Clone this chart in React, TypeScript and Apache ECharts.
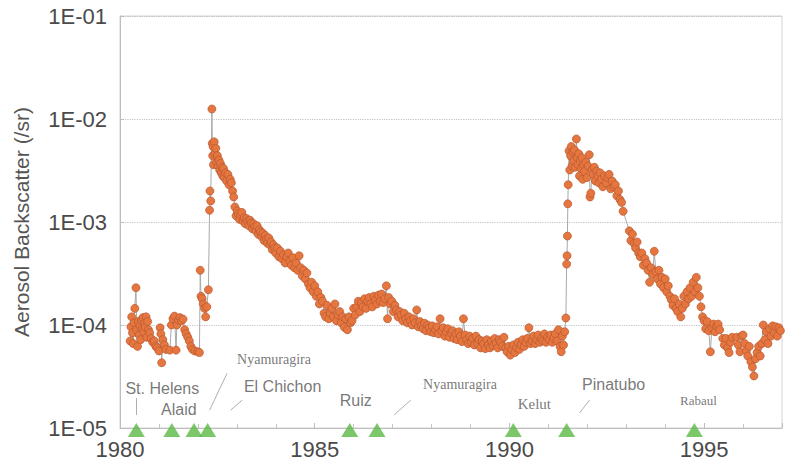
import React, { useEffect, useRef } from "react";
import * as echarts from "echarts";

type P = [number, number];

const preChichon: P[] = [
  [1980.26, 7.0e-5], [1980.28, 9.6e-5], [1980.30, 1.2e-4], [1980.32, 8.4e-5], [1980.34, 6.6e-5],
  [1980.36, 1.05e-4], [1980.38, 1.45e-4], [1980.41, 2.3e-4], [1980.43, 9.0e-5], [1980.45, 6.2e-5],
  [1980.47, 1.08e-4], [1980.49, 8.0e-5], [1980.51, 9.8e-5], [1980.53, 7.2e-5], [1980.55, 1.12e-4],
  [1980.57, 9.2e-5], [1980.59, 1.18e-4], [1980.61, 8.6e-5], [1980.63, 1.04e-4], [1980.65, 9.5e-5],
  [1980.67, 1.2e-4], [1980.69, 7.6e-5], [1980.71, 1.08e-4], [1980.73, 9.0e-5], [1980.76, 8.4e-5],
  [1980.80, 7.4e-5], [1980.84, 6.8e-5], [1980.88, 7.0e-5], [1980.92, 6.2e-5], [1980.96, 6.0e-5],
  [1981.00, 5.6e-5], [1981.03, 9.4e-5], [1981.05, 8.2e-5], [1981.07, 4.3e-5], [1981.10, 7.2e-5],
  [1981.14, 6.4e-5], [1981.18, 5.8e-5], [1981.28, 5.7e-5], [1981.32, 1.0e-4], [1981.36, 1.15e-4],
  [1981.40, 1.22e-4], [1981.44, 5.7e-5], [1981.46, 1.0e-4], [1981.50, 1.12e-4], [1981.54, 1.18e-4],
  [1981.58, 1.1e-4], [1981.62, 1.14e-4], [1981.66, 9.0e-5], [1981.70, 8.2e-5], [1981.74, 7.6e-5],
  [1981.78, 7.0e-5], [1981.82, 6.2e-5], [1981.86, 5.8e-5], [1981.92, 5.6e-5], [1982.00, 5.5e-5],
  [1982.04, 5.4e-5], [1982.06, 3.4e-4], [1982.08, 1.9e-4], [1982.11, 1.8e-4], [1982.14, 1.6e-4],
  [1982.17, 1.45e-4], [1982.20, 1.2e-4], [1982.23, 1.5e-4], [1982.27, 2.2e-4],
];

const chichon: P[] = [
  [1982.30, 1.3e-3], [1982.31, 2.0e-3], [1982.33, 1.6e-3], [1982.36, 1.25e-2], [1982.37, 5.8e-3],
  [1982.38, 4.4e-3], [1982.39, 5.4e-3], [1982.40, 3.6e-3], [1982.42, 6.0e-3], [1982.44, 4.6e-3],
  [1982.46, 5.2e-3], [1982.48, 3.8e-3], [1982.50, 4.4e-3], [1982.52, 3.5e-3], [1982.54, 4.0e-3],
  [1982.56, 3.2e-3], [1982.58, 3.7e-3], [1982.60, 3.0e-3], [1982.62, 3.4e-3], [1982.64, 2.8e-3],
  [1982.66, 3.3e-3], [1982.68, 2.7e-3], [1982.71, 3.0e-3], [1982.74, 2.5e-3], [1982.77, 2.9e-3],
  [1982.80, 2.3e-3], [1982.83, 2.6e-3], [1982.86, 2.4e-3], [1982.89, 2.0e-3], [1982.92, 1.75e-3],
];

const chichonDecay: P[] = [
  [1982.95, 1.4e-3], [1982.98, 1.15e-3], [1983.01, 1.28e-3], [1983.04, 1.2e-3], [1983.07, 1.06e-3],
  [1983.10, 1.18e-3], [1983.13, 1.24e-3], [1983.16, 1.02e-3], [1983.19, 1.1e-3], [1983.22, 9.6e-4],
  [1983.25, 1.08e-3], [1983.28, 1.02e-3], [1983.31, 9.2e-4], [1983.34, 1.04e-3], [1983.37, 9.8e-4],
  [1983.40, 8.6e-4], [1983.43, 9.6e-4], [1983.46, 9.0e-4], [1983.49, 8.2e-4], [1983.52, 9.2e-4],
  [1983.55, 7.6e-4], [1983.58, 8.4e-4], [1983.61, 8.0e-4], [1983.64, 7.2e-4], [1983.67, 7.8e-4],
  [1983.70, 6.6e-4], [1983.73, 7.4e-4], [1983.76, 6.8e-4], [1983.79, 6.2e-4], [1983.82, 7.0e-4],
  [1983.85, 6.0e-4], [1983.88, 6.4e-4], [1983.91, 5.4e-4], [1983.94, 6.0e-4], [1983.97, 5.6e-4],
  [1984.00, 5.0e-4], [1984.04, 5.6e-4], [1984.08, 4.6e-4], [1984.12, 5.2e-4], [1984.16, 4.4e-4],
  [1984.20, 4.8e-4], [1984.24, 4.0e-4], [1984.28, 4.6e-4], [1984.32, 5.0e-4], [1984.36, 4.2e-4],
  [1984.40, 3.8e-4], [1984.44, 4.5e-4], [1984.48, 3.6e-4], [1984.52, 4.0e-4], [1984.56, 3.4e-4],
  [1984.60, 4.7e-4], [1984.64, 3.6e-4], [1984.68, 3.0e-4], [1984.72, 3.4e-4], [1984.76, 2.8e-4],
  [1984.80, 3.2e-4], [1984.84, 2.5e-4], [1984.88, 2.3e-4], [1984.92, 2.6e-4], [1984.96, 2.1e-4],
];

const background: P[] = [
  [1985.00, 2.4e-4], [1985.04, 1.9e-4], [1985.08, 2.1e-4], [1985.12, 1.6e-4], [1985.16, 1.85e-4],
  [1985.20, 1.7e-4], [1985.24, 1.3e-4], [1985.28, 1.2e-4], [1985.32, 1.55e-4], [1985.36, 1.15e-4],
  [1985.40, 1.3e-4], [1985.44, 1.45e-4], [1985.48, 1.2e-4], [1985.52, 1.6e-4], [1985.56, 1.1e-4],
  [1985.60, 1.25e-4], [1985.64, 1.35e-4], [1985.68, 1.05e-4], [1985.72, 1.2e-4], [1985.76, 9.5e-5],
  [1985.80, 1.15e-4], [1985.84, 9.0e-5], [1985.88, 1.2e-4], [1985.92, 1.05e-4], [1985.96, 1.1e-4],
  [1986.00, 1.45e-4], [1986.04, 1.25e-4], [1986.08, 1.5e-4], [1986.12, 1.7e-4], [1986.16, 1.35e-4],
  [1986.20, 1.65e-4], [1986.24, 1.5e-4], [1986.28, 1.8e-4], [1986.32, 1.45e-4], [1986.36, 1.7e-4],
  [1986.40, 1.85e-4], [1986.44, 1.6e-4], [1986.48, 1.5e-4], [1986.52, 1.9e-4], [1986.56, 1.75e-4],
  [1986.60, 1.6e-4], [1986.64, 1.95e-4], [1986.68, 1.7e-4], [1986.72, 2.0e-4], [1986.76, 1.65e-4],
  [1986.80, 1.8e-4], [1986.84, 2.4e-4], [1986.87, 1.15e-4], [1986.90, 1.85e-4], [1986.94, 1.6e-4],
  [1986.98, 1.7e-4], [1987.02, 1.35e-4], [1987.06, 1.55e-4], [1987.10, 1.4e-4], [1987.14, 1.2e-4],
  [1987.18, 1.35e-4], [1987.22, 1.25e-4], [1987.26, 1.1e-4], [1987.30, 1.3e-4], [1987.34, 1.15e-4],
  [1987.38, 1.05e-4], [1987.42, 1.2e-4], [1987.46, 1.1e-4], [1987.50, 1.0e-4], [1987.54, 1.15e-4],
  [1987.58, 1.05e-4], [1987.62, 1.4e-4], [1987.66, 9.6e-5], [1987.70, 1.08e-4], [1987.74, 9.8e-5],
  [1987.78, 9.2e-5], [1987.82, 1.04e-4], [1987.86, 8.8e-5], [1987.90, 1.0e-4], [1987.94, 9.4e-5],
  [1987.98, 8.6e-5], [1988.02, 9.8e-5], [1988.06, 8.4e-5], [1988.10, 9.0e-5], [1988.14, 9.6e-5],
  [1988.18, 8.2e-5], [1988.22, 1.15e-4], [1988.26, 8.8e-5], [1988.30, 9.4e-5], [1988.34, 7.8e-5],
  [1988.38, 8.6e-5], [1988.42, 9.2e-5], [1988.46, 7.6e-5], [1988.50, 8.4e-5], [1988.54, 8.8e-5],
  [1988.58, 7.4e-5], [1988.62, 8.2e-5], [1988.66, 7.2e-5], [1988.70, 8.6e-5], [1988.74, 7.8e-5],
  [1988.78, 6.9e-5], [1988.82, 1.15e-4], [1988.86, 8.0e-5], [1988.90, 7.2e-5], [1988.94, 6.6e-5],
  [1988.98, 7.8e-5], [1989.02, 6.8e-5], [1989.06, 7.4e-5], [1989.10, 6.4e-5], [1989.14, 7.8e-5],
  [1989.18, 6.6e-5], [1989.22, 7.2e-5], [1989.26, 6.0e-5], [1989.30, 7.0e-5], [1989.34, 6.6e-5],
  [1989.38, 5.9e-5], [1989.42, 7.2e-5], [1989.46, 6.4e-5], [1989.50, 6.0e-5], [1989.54, 7.0e-5],
  [1989.58, 6.3e-5], [1989.62, 7.4e-5], [1989.66, 6.6e-5], [1989.70, 6.0e-5], [1989.74, 7.2e-5],
  [1989.78, 6.8e-5], [1989.82, 6.2e-5], [1989.86, 7.6e-5], [1989.90, 6.0e-5], [1989.94, 5.5e-5],
  [1989.98, 6.2e-5], [1990.02, 5.1e-5], [1990.06, 5.8e-5], [1990.10, 6.4e-5], [1990.14, 5.4e-5],
  [1990.18, 6.0e-5], [1990.22, 6.8e-5], [1990.26, 5.8e-5], [1990.30, 6.4e-5], [1990.34, 7.2e-5],
  [1990.38, 6.2e-5], [1990.42, 6.8e-5], [1990.46, 7.4e-5], [1990.50, 9.4e-5], [1990.54, 6.6e-5],
  [1990.58, 7.0e-5], [1990.62, 7.8e-5], [1990.66, 6.6e-5], [1990.70, 7.2e-5], [1990.74, 8.0e-5],
  [1990.78, 6.8e-5], [1990.82, 7.4e-5], [1990.86, 7.0e-5], [1990.90, 8.2e-5], [1990.94, 6.8e-5],
  [1990.98, 7.6e-5], [1991.02, 7.2e-5], [1991.06, 8.0e-5], [1991.10, 6.8e-5], [1991.14, 7.4e-5],
  [1991.18, 8.2e-5], [1991.22, 7.0e-5], [1991.26, 9.0e-5], [1991.30, 6.2e-5], [1991.33, 5.5e-5],
  [1991.36, 7.8e-5], [1991.39, 6.4e-5], [1991.42, 8.6e-5], [1991.45, 1.17e-4],
];

const pinatubo: P[] = [
  [1991.47, 3.9e-4], [1991.48, 4.7e-4], [1991.49, 7.3e-4], [1991.50, 1.5e-3], [1991.51, 2.3e-3],
  [1991.53, 4.9e-3], [1991.55, 3.2e-3], [1991.57, 4.4e-3], [1991.59, 5.4e-3], [1991.61, 3.5e-3],
  [1991.63, 4.8e-3], [1991.65, 3.9e-3], [1991.67, 5.0e-3], [1991.69, 3.4e-3], [1991.72, 6.4e-3],
  [1991.74, 4.2e-3], [1991.76, 3.6e-3], [1991.78, 4.6e-3], [1991.80, 2.8e-3], [1991.82, 3.9e-3],
  [1991.84, 3.3e-3], [1991.86, 4.2e-3], [1991.88, 2.6e-3], [1991.90, 3.6e-3], [1991.93, 3.1e-3],
  [1991.96, 3.8e-3], [1991.99, 2.7e-3], [1992.02, 3.5e-3], [1992.05, 4.5e-3], [1992.07, 1.75e-3],
  [1992.09, 1.9e-3], [1992.12, 3.2e-3], [1992.15, 2.9e-3], [1992.18, 3.4e-3], [1992.21, 2.5e-3],
  [1992.24, 3.1e-3], [1992.27, 2.8e-3], [1992.30, 2.4e-3], [1992.33, 3.0e-3], [1992.36, 2.6e-3],
  [1992.40, 2.2e-3], [1992.44, 2.8e-3], [1992.48, 2.4e-3], [1992.52, 2.7e-3], [1992.56, 2.9e-3],
  [1992.60, 2.1e-3], [1992.64, 2.5e-3], [1992.68, 2.2e-3], [1992.72, 2.3e-3], [1992.76, 1.8e-3],
  [1992.80, 2.0e-3], [1992.84, 1.65e-3], [1992.88, 1.55e-3], [1992.92, 1.27e-3],
];

const pinatuboDecay: P[] = [
  [1993.08, 8.2e-4], [1993.12, 6.6e-4], [1993.16, 7.6e-4], [1993.20, 6.2e-4], [1993.24, 5.6e-4],
  [1993.28, 6.4e-4], [1993.32, 5.0e-4], [1993.36, 4.6e-4], [1993.40, 5.0e-4], [1993.44, 3.8e-4],
  [1993.48, 4.4e-4], [1993.52, 4.0e-4], [1993.56, 3.4e-4], [1993.60, 2.6e-4], [1993.64, 3.6e-4],
  [1993.68, 3.1e-4], [1993.72, 5.2e-4], [1993.76, 3.3e-4], [1993.80, 2.8e-4], [1993.84, 3.4e-4],
  [1993.88, 2.5e-4], [1993.92, 2.9e-4], [1993.96, 2.3e-4], [1994.00, 2.8e-4], [1994.04, 2.1e-4],
  [1994.08, 2.4e-4], [1994.12, 1.9e-4], [1994.16, 1.75e-4], [1994.20, 1.55e-4], [1994.24, 1.8e-4],
  [1994.28, 1.45e-4], [1994.32, 1.35e-4], [1994.36, 1.6e-4], [1994.40, 1.2e-4], [1994.44, 1.45e-4],
  [1994.48, 1.9e-4], [1994.52, 1.6e-4], [1994.56, 2.1e-4], [1994.60, 1.8e-4], [1994.64, 2.3e-4],
  [1994.68, 1.9e-4], [1994.72, 2.6e-4], [1994.76, 2.1e-4], [1994.80, 2.9e-4], [1994.84, 2.3e-4],
  [1994.88, 1.9e-4], [1994.92, 1.5e-4], [1994.96, 1.2e-4], [1995.00, 1.1e-4], [1995.04, 9.2e-5],
  [1995.08, 1.08e-4], [1995.12, 8.8e-5], [1995.16, 5.5e-5], [1995.20, 9.4e-5], [1995.24, 1.02e-4],
  [1995.28, 8.6e-5], [1995.32, 9.8e-5], [1995.36, 1.02e-4], [1995.40, 9.0e-5], [1995.48, 7.4e-5],
  [1995.52, 6.4e-5], [1995.56, 7.4e-5], [1995.60, 6.0e-5], [1995.64, 5.4e-5], [1995.68, 6.8e-5],
  [1995.72, 7.6e-5], [1995.84, 7.6e-5], [1995.88, 6.4e-5], [1995.92, 5.5e-5], [1995.96, 7.8e-5],
  [1996.00, 8.0e-5], [1996.04, 6.6e-5], [1996.08, 5.6e-5], [1996.12, 5.0e-5], [1996.16, 6.2e-5],
  [1996.20, 4.4e-5], [1996.24, 3.9e-5], [1996.28, 3.2e-5], [1996.32, 4.7e-5], [1996.36, 5.4e-5],
  [1996.40, 6.2e-5], [1996.44, 5.0e-5], [1996.48, 6.6e-5], [1996.52, 1.0e-4], [1996.56, 7.2e-5],
  [1996.60, 8.6e-5], [1996.64, 6.6e-5], [1996.68, 9.2e-5], [1996.72, 7.8e-5], [1996.76, 9.8e-5],
  [1996.80, 8.4e-5], [1996.84, 9.6e-5], [1996.88, 7.8e-5], [1996.92, 9.4e-5], [1996.96, 8.8e-5],
];

const volcanoNames = [
  "St. Helens", "Alaid", "Nyamuragira", "El Chichon", "Ruiz",
  "Nyamuragira", "Kelut", "Pinatubo", "Rabaul",
];
const volcanoYears = [1980.42, 1981.33, 1981.9, 1982.25, 1985.9, 1986.6, 1990.1, 1991.47, 1994.75];
const axisFloor = 1e-5;

// leader lines in data space: [year1, value1, year2, value2]
const leaderLines: [number, number, number, number][] = [
  [1980.42, 1.34e-5, 1980.42, 1.95e-5],
  [1982.3, 1.49e-5, 1982.75, 3.4e-5],
  [1982.84, 1.49e-5, 1983.14, 1.87e-5],
  [1987.04, 1.34e-5, 1987.47, 1.87e-5],
  [1991.8, 1.4e-5, 1992.06, 1.87e-5],
];

const SANS = "'Liberation Sans', Arial, Helvetica, sans-serif";
const SERIF = "'Liberation Serif', 'Times New Roman', serif";

// label style per volcano (offset from triangle, font)
const labelStyles = [
  { offset: [26, -42], font: SANS, size: 16 },
  { offset: [7, -21], font: SANS, size: 16 },
  { offset: [80, -71], font: SERIF, size: 14 },
  { offset: [75, -44], font: SANS, size: 16 },
  { offset: [6, -30], font: SANS, size: 16 },
  { offset: [83, -46], font: SERIF, size: 14 },
  { offset: [21, -26], font: SERIF, size: 15 },
  { offset: [47, -46], font: SANS, size: 16 },
  { offset: [4, -30], font: SERIF, size: 13 },
];

const backscatter: P[] = [
  ...preChichon, ...chichon, ...chichonDecay, ...background, ...pinatubo, ...pinatuboDecay,
];

export default function App() {
  const ref = useRef<HTMLDivElement>(null);
  useEffect(() => {
    document.body.style.margin = "0";
    if (!ref.current) return;
    const chart = echarts.init(ref.current, undefined, { renderer: "svg" });
    chart.setOption({
      animation: false,
      backgroundColor: "#ffffff",
      grid: {
        left: 120, right: 3, top: 16, bottom: 46,
        show: true, borderColor: "#d4d4d4", borderWidth: 1,
      },
      xAxis: {
        type: "value",
        min: 1980, max: 1997, interval: 5,
        axisLine: { show: true, lineStyle: { color: "#bdbdbd" } },
        axisTick: { show: true, inside: true, length: 5, lineStyle: { color: "#bdbdbd" } },
        minorTick: { show: true, splitNumber: 5, length: 4, lineStyle: { color: "#c4c4c4" } },
        splitLine: { show: false },
        axisLabel: {
          fontSize: 22, color: "#4a4a4a", fontFamily: SANS, margin: 10,
          formatter: (v: number) => (v % 5 === 0 ? String(v) : ""),
        },
      },
      yAxis: {
        type: "log", logBase: 10, min: 1e-5, max: 1e-1,
        name: "Aerosol Backscatter (/sr)",
        nameLocation: "middle", nameGap: 88,
        nameTextStyle: { fontSize: 21, color: "#555", fontFamily: SANS },
        axisLine: { show: true, lineStyle: { color: "#bdbdbd" } },
        axisTick: { show: true, inside: true, length: 4, lineStyle: { color: "#bdbdbd" } },
        splitLine: { show: true, lineStyle: { type: "dotted", color: "#c4c4c4", width: 1.2 } },
        axisLabel: {
          fontSize: 22, color: "#4a4a4a", fontFamily: SANS, margin: 13,
          formatter: (v: number) => {
            const e = Math.round(Math.log10(v));
            return "1E-" + String(-e).padStart(2, "0");
          },
        },
      },
      series: [
        {
          type: "line",
          data: backscatter,
          showAllSymbol: true,
          symbol: "circle",
          symbolSize: 8,
          itemStyle: { color: "#e5763f", borderColor: "#b8582f", borderWidth: 0.7 },
          lineStyle: { color: "#a8a8a8", width: 1 },
          z: 3,
        },
        {
          type: "scatter",
          clip: false,
          symbol: "triangle",
          symbolSize: [17, 14],
          symbolOffset: [0, 2],
          itemStyle: { color: "#5cb946" },
          z: 5,
          data: volcanoYears.map((yr, i) => ({
            value: [yr, axisFloor],
            name: volcanoNames[i],
            label: {
              show: true,
              position: "inside",
              formatter: "{b}",
              offset: labelStyles[i].offset,
              fontFamily: labelStyles[i].font,
              fontSize: labelStyles[i].size,
              color: "#555",
            },
          })),
          markLine: {
            silent: true,
            symbol: "none",
            label: { show: false },
            lineStyle: { color: "#9a9a9a", width: 0.8, type: "solid" },
            data: leaderLines.map(([x1, y1, x2, y2]) => [
              { coord: [x1, y1] },
              { coord: [x2, y2] },
            ]),
          },
        },
      ],
    });
    return () => chart.dispose();
  }, []);
  return <div ref={ref} style={{ width: 785, height: 474 }} />;
}
